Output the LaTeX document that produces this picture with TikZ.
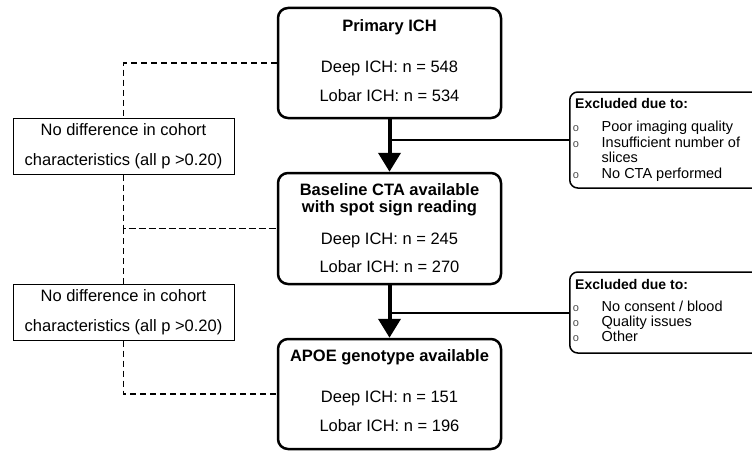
\documentclass[tikz,border=0pt]{standalone}
\usepackage{fontspec}
\setmainfont{Liberation Sans}
\usetikzlibrary{arrows.meta}
\begin{document}
\begin{tikzpicture}[x=1pt,y=-1pt,
  mainbox/.style={draw, line width=2.5pt, rounded corners=10pt, minimum width=223pt, minimum height=110pt, inner sep=0pt},
  sidebox/.style={draw, line width=1pt, minimum width=221pt, minimum height=56pt, inner sep=0pt},
  exbox/.style={draw, line width=1.5pt, rounded corners=8pt, inner sep=0pt, minimum width=231pt},
  txt/.style={font=\fontsize{16.5}{19}\selectfont, inner sep=0pt, anchor=base},
  ttl/.style={font=\fontsize{16.5}{19}\selectfont\bfseries, inner sep=0pt, anchor=base},
  extxt/.style={font=\fontsize{14.5}{15}\selectfont, inner sep=0pt, anchor=base west},
  exttl/.style={font=\fontsize{14}{15}\selectfont\bfseries, inner sep=0pt, anchor=base west},
  bul/.style={font=\fontsize{11}{11}\selectfont, text=black!70, inner sep=0pt, anchor=base},
  dline/.style={dash pattern=on 6pt off 4pt, line width=1.4pt},
  flow/.style={line width=4pt, -{Triangle[length=19pt,width=22pt]}},
  hline/.style={line width=2pt},
  ]
\fill[white] (0,0) rectangle (752,452);
\clip (0,0) rectangle (752,452);

% main boxes
\node[mainbox] (b1) at (389.5,63) {};
\node[mainbox, minimum height=111pt] (b2) at (389.5,228.5) {};
\node[mainbox] (b3) at (389.5,394) {};

\node[ttl] (t1) at (389.5,32) {Primary ICH};
\node[txt] (d1) at (389.5,72) {Deep ICH: n = 548};
\node[txt] (l1) at (389.5,101) {Lobar ICH: n = 534};

\node[ttl] (t2a) at (389.5,195) {Baseline CTA available};
\node[ttl] (t2b) at (389.5,212.5) {with spot sign reading};
\node[txt] (d2) at (389.5,244) {Deep ICH: n = 245};
\node[txt] (l2) at (389.5,272.7) {Lobar ICH: n = 270};

\node[ttl] (t3) at (389.5,361.7) {APOE genotype available};
\node[txt] (d3) at (389.5,402.7) {Deep ICH: n = 151};
\node[txt] (l3) at (389.5,431.7) {Lobar ICH: n = 196};

% side boxes
\node[sidebox] (s1) at (123.5,146) {};
\node[txt] (s1a) at (123.5,135) {No difference in cohort};
\node[txt] (s1b) at (123.5,165) {characteristics (all p >0.20)};
\node[sidebox] (s2) at (123.5,312) {};
\node[txt] (s2a) at (123.5,301) {No difference in cohort};
\node[txt] (s2b) at (123.5,331) {characteristics (all p >0.20)};

% exclusion boxes
\node[exbox, minimum height=96pt, anchor=west] (e1) at (569,140) {};
\node[exttl] (e1t) at (575,108.3) {Excluded due to:};
\node[bul] (e1b1) at (576,131.7) {o};
\node[extxt] (e1x1) at (601.5,131.7) {Poor imaging quality};
\node[bul] (e1b2) at (576,147.3) {o};
\node[extxt] (e1x2) at (601.5,147.3) {Insufficient number of};
\node[extxt] (e1x3) at (601.5,162.8) {slices};
\node[bul] (e1b3) at (576,178.3) {o};
\node[extxt] (e1x4) at (601.5,178.3) {No CTA performed};

\node[exbox, minimum height=81pt, anchor=west] (e2) at (569,312.5) {};
\node[exttl] (e2t) at (575,289) {Excluded due to:};
\node[bul] (e2b1) at (576,311.5) {o};
\node[extxt] (e2x1) at (601.5,311.5) {No consent / blood};
\node[bul] (e2b2) at (576,326.5) {o};
\node[extxt] (e2x2) at (601.5,326.5) {Quality issues};
\node[bul] (e2b3) at (576,341) {o};
\node[extxt] (e2x3) at (601.5,341) {Other};

% flow arrows
\draw[flow] (b1.south) -- (b2.north);
\draw[flow] (b2.south) -- (b3.north);
\coordinate (j1) at (b1.south |- e1.west);
\coordinate (j2) at (b2.south |- e2.west);
\draw[hline] (j1) -- (e1.west);
\draw[hline] (j2) -- (e2.west);

% dashed connectors
\draw[dline] (b1.west) -| (s1.north);
\draw[dline] (s1.south) |- (b2.west);
\draw[dline] (s2.north) |- (b2.west);
\draw[dline] (s2.south) |- (b3.west);
\end{tikzpicture}
\end{document}
